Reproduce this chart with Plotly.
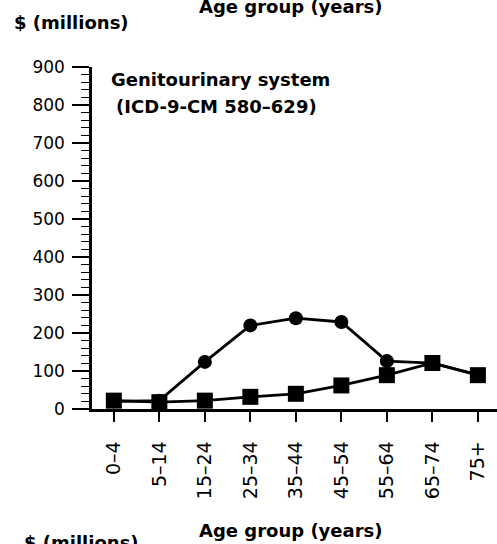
import plotly.graph_objects as go

# age groups and spending ($ millions)
age_groups = ["0–4", "5–14", "15–24", "25–34", "35–44", "45–54", "55–64", "65–74", "75+"]
circle_vals = [20, 22, 124, 220, 239, 229, 126, 121, 90]
square_vals = [22, 18, 22, 32, 40, 62, 89, 121, 89]

y_ticks = [0, 100, 200, 300, 400, 500, 600, 700, 800, 900]
y_minor = list(range(0, 901, 20))

W, H = 497, 544
L, R, T, B = 92, 0, 67, 135
FONT = "DejaVu Sans"


def px_x(px):
    return (px - L) / (W - L - R)


def px_y(py):
    return (H - B - py) / (H - T - B)


fig = go.Figure()

fig.add_trace(go.Scatter(
    x=list(range(len(age_groups))), y=circle_vals, mode="lines+markers",
    line=dict(color="black", width=2.8),
    marker=dict(symbol="circle", size=14, color="black"),
    cliponaxis=False, showlegend=False,
))
fig.add_trace(go.Scatter(
    x=list(range(len(age_groups))), y=square_vals, mode="lines+markers",
    line=dict(color="black", width=2.8),
    marker=dict(symbol="square", size=16, color="black"),
    cliponaxis=False, showlegend=False,
))

texts = [
    ("Age group (years)", 291, 6, "center", 18),
    ("$ (millions)", 12, 23, "left", 18),
    ("Genitourinary system", 109, 80, "left", 18),
    ("(ICD-9-CM 580–629)", 114, 106, "left", 18),
    ("Age group (years)", 291, 530, "center", 18),
    ("$ (millions)", 22, 542, "left", 18),
]
for txt, x, y, anchor, size in texts:
    fig.add_annotation(
        text="<b>" + txt + "</b>", x=px_x(x), y=px_y(y), xref="paper", yref="paper",
        xanchor=anchor, yanchor="middle", showarrow=False,
        font=dict(family=FONT, size=size, color="black"),
    )

fig.update_xaxes(
    range=[-0.48, 8.42], tickmode="array", tickvals=list(range(len(age_groups))),
    ticktext=age_groups, tickangle=-90, ticks="outside", ticklen=10, tickwidth=1.5,
    tickcolor="black", showline=True, linecolor="black", linewidth=2.5,
    showgrid=False, zeroline=False, ticklabelstandoff=12, automargin=False,
    tickfont=dict(family=FONT, size=19, color="black"),
)
fig.update_yaxes(
    range=[0, 900], tickvals=y_ticks, ticks="outside", ticklen=17, tickwidth=1.5,
    tickcolor="black", showline=True, linecolor="black", linewidth=2.5,
    showgrid=False, zeroline=False, ticklabelstandoff=4, automargin=False,
    minor=dict(tickvals=y_minor, ticks="outside", ticklen=8, tickwidth=1.2,
               tickcolor="black", showgrid=False),
    tickfont=dict(family=FONT, size=17, color="black"),
)

fig.update_layout(
    width=W, height=H, margin=dict(l=L, r=R, t=T, b=B),
    plot_bgcolor="white", paper_bgcolor="white",
)

fig.write_html("out.html", config={"displayModeBar": False},
               post_script="document.body.style.margin='0';")
